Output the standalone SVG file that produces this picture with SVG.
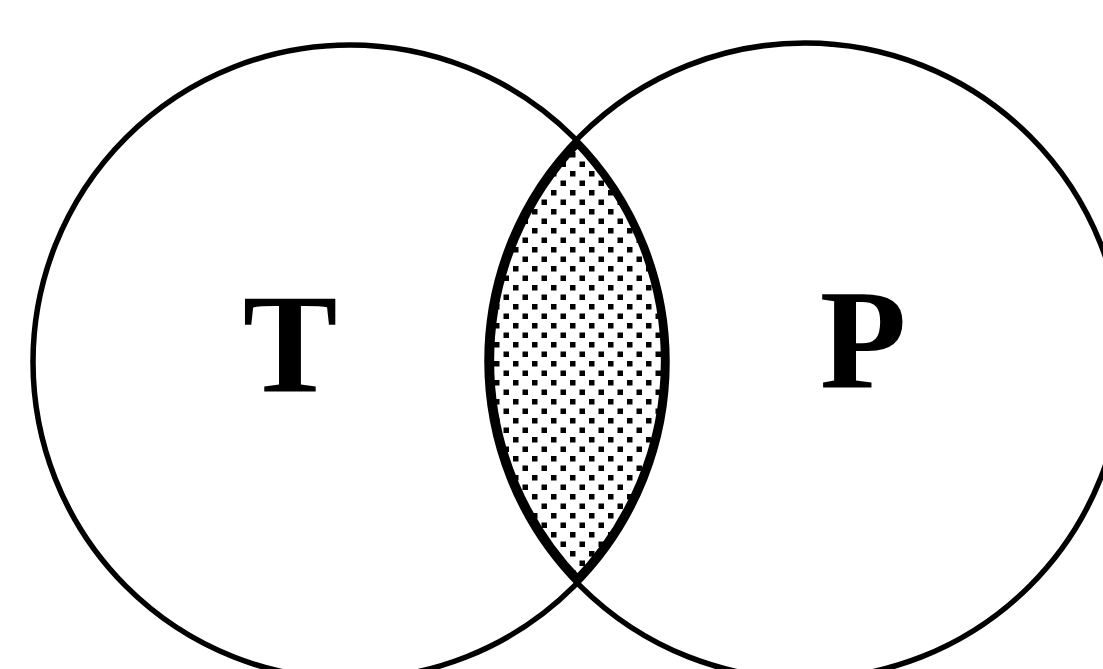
<svg xmlns="http://www.w3.org/2000/svg" width="1103" height="669" viewBox="0 0 1103 669">
  <style>
    .ring { fill: none; stroke: #000; stroke-width: 5.5; }
    .lbl { font-family: "Liberation Serif", "Times New Roman", serif; font-weight: bold; font-size: 142px; fill: #000; text-anchor: middle; }
  </style>
  <defs>
    <pattern id="dots" patternUnits="userSpaceOnUse" width="19" height="19">
      <rect x="0" y="0" width="5.5" height="5.5" fill="#000"/>
      <rect x="9.5" y="9.5" width="5.5" height="5.5" fill="#000"/>
    </pattern>
    <clipPath id="lensClip">
      <path d="M 577.5 140 A 318 318 0 0 1 577.5 582 A 318 318 0 0 1 577.5 140 Z"/>
    </clipPath>
  </defs>
  <rect width="1103" height="669" fill="#fff"/>
  <g id="intersection">
    <path d="M 577.5 140 A 318 318 0 0 1 577.5 582 A 318 318 0 0 1 577.5 140 Z" fill="url(#dots)" stroke="#000" stroke-width="12" clip-path="url(#lensClip)"/>
  </g>
  <g id="T">
    <circle class="ring" cx="350" cy="362" r="317"/>
    <text class="lbl" x="290" y="392">T</text>
  </g>
  <g id="P">
    <circle class="ring" cx="805" cy="361" r="318"/>
    <text class="lbl" x="863" y="388">P</text>
  </g>
  <g id="connectors"></g>
</svg>
